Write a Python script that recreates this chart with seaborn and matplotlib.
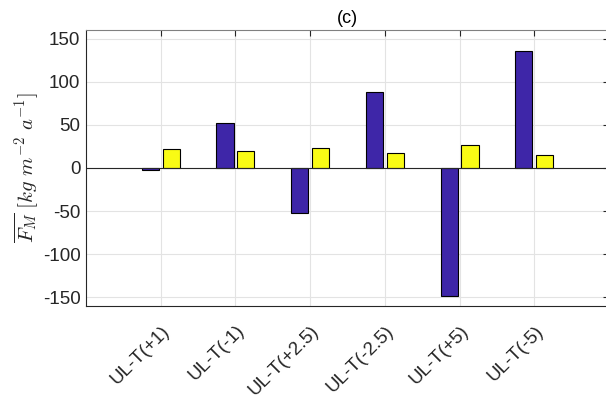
import numpy as np
import pandas as pd
import matplotlib
matplotlib.use('Agg')
import matplotlib.pyplot as plt
import matplotlib.transforms as mtransforms
import seaborn as sns

# ── Données ─────────────────────────────────────────────────────────
experiences = ['UL-T(+1)', 'UL-T(-1)', 'UL-T(+2.5)', 'UL-T(-2.5)', 'UL-T(+5)', 'UL-T(-5)']
serie_a = [-2.7, 52.5, -51.7, 88.0, -148.5, 135.4]   # barres bleues
serie_b = [21.6, 19.3, 23.5, 17.4, 27.0, 14.7]       # barres jaunes

df = pd.DataFrame({
    'exp': experiences * 2,
    'val': serie_a + serie_b,
    'serie': ['a'] * len(serie_a) + ['b'] * len(serie_b),
})

sns.set_style('white')
plt.rcParams['font.family'] = ['Liberation Sans', 'DejaVu Sans']
plt.rcParams['mathtext.fontset'] = 'cm'
plt.rcParams['axes.unicode_minus'] = False

fig = plt.figure(figsize=(6.06, 4.04), dpi=100)
ax = fig.add_axes([86 / 606, 98 / 404, 523 / 606, 276 / 404])

sns.barplot(data=df, x='exp', y='val', hue='serie', order=experiences,
            palette=['#3E26A8', '#F9FB15'], saturation=1, width=0.56, gap=0.18,
            edgecolor='black', linewidth=0.8, legend=False, ax=ax, zorder=3)

ax.axhline(0, color='#262626', lw=0.8, zorder=4)
ax.set_xlim(-1, 6)
ax.set_ylim(-160, 160)
ax.set_yticks([-150, -100, -50, 0, 50, 100, 150])
ax.grid(True, color='#e3e3e3', lw=0.8, zorder=0)
ax.set_axisbelow(True)

for s in ax.spines.values():
    s.set_color('#262626')
    s.set_linewidth(0.8)
ax.spines['top'].set_color('#808080')

ax.tick_params(axis='both', direction='in', length=4, width=0.8, color='#262626',
               labelsize=13.5, labelcolor='#262626', top=True, right=True)
ax.tick_params(axis='x', pad=16)
ax.tick_params(axis='y', pad=4)
decalage = mtransforms.ScaledTranslation(6 / 100, 0, fig.dpi_scale_trans)
for lab in ax.get_xticklabels():
    lab.set_rotation(45)
    lab.set_ha('right')
    lab.set_va('center')
    lab.set_rotation_mode('anchor')
    lab.set_transform(lab.get_transform() + decalage)

ax.set_xlabel('')
ax.set_ylabel(r'$\overline{F_M}\ [kg\ m^{-2}\ a^{-1}]$', fontsize=15, color='#262626', labelpad=2)
ax.set_title('(c)', fontsize=13, color='black', pad=5)

plt.savefig('out.png', dpi=100)
